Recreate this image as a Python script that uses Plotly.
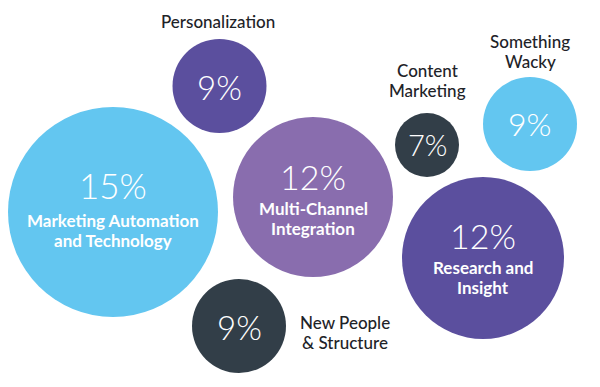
import plotly.graph_objects as go

# ---- data ----
categories = [
    "Marketing Automation<br>and Technology",
    "Personalization",
    "Multi-Channel<br>Integration",
    "New People<br>& Structure",
    "Content<br>Marketing",
    "Something<br>Wacky",
    "Research and<br>Insight",
]
values = [15, 9, 12, 9, 7, 9, 12]

# ---- layout (positions / sizes / styles) ----
cx = [113, 219.5, 313, 239, 427, 530, 483]
cy = [212, 86, 197, 326, 145, 124, 258]
radius = [105, 47, 80, 47, 32, 47, 81]
colors = ["#63C6F0", "#5B4F9E", "#896DAE", "#323E48", "#323E48", "#63C6F0", "#5B4F9E"]
inside = [True, False, True, False, False, False, True]
pct_y = [185, 87, 176, 327, 144, 123, 235]
label_x = [113, 218, 313, 345, 427, 530, 483]
label_y = [220, 21, 208, 322, 70, 41, 267]
pct_size = [35, 33, 34, 33, 29, 32, 34]
LINE = 20

OFF = 8  # page body margin in the browser
W, H = 600 - 2 * OFF, 387 - 2 * OFF

fig = go.Figure()
fig.add_trace(go.Scatter(
    x=cx, y=cy, mode="markers",
    marker=dict(size=[2 * r for r in radius], color=colors, opacity=1,
                line=dict(width=0)),
    hoverinfo="skip", showlegend=False,
))

FONT = "Lato"
for i, (cat, v) in enumerate(zip(categories, values)):
    fig.add_annotation(x=cx[i], y=pct_y[i], text=f"{v}%", showarrow=False,
                       font=dict(family=FONT, size=pct_size[i], color="white", weight=300))
    col = "white" if inside[i] else "#1E2328"
    wt = 700 if inside[i] else 500
    for j, line in enumerate(cat.split("<br>")):
        fig.add_annotation(x=label_x[i], y=label_y[i] + j * LINE, text=line, showarrow=False,
                           font=dict(family=FONT, size=17, color=col, weight=wt))

fig.update_layout(
    width=W, height=H,
    margin=dict(l=0, r=0, t=0, b=0),
    paper_bgcolor="white", plot_bgcolor="white",
    xaxis=dict(range=[OFF, OFF + W], visible=False, fixedrange=True),
    yaxis=dict(range=[OFF + H, OFF], visible=False, fixedrange=True),
)
fig.write_html("out.html")
